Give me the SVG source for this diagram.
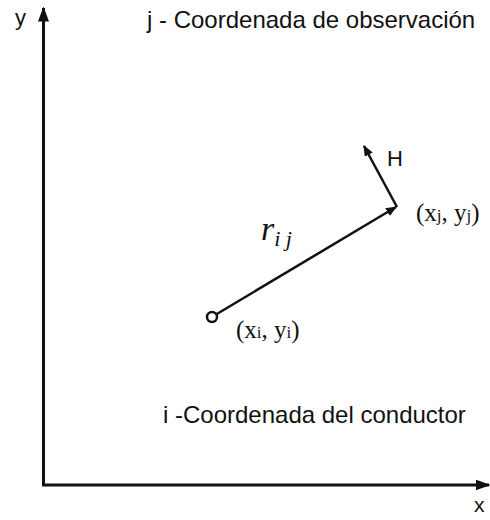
<svg xmlns="http://www.w3.org/2000/svg" width="490" height="520" viewBox="0 0 490 520">
<defs>
<style>
.sans{font-family:"Liberation Sans",Arial,sans-serif;fill:#111}
.serif{font-family:"Liberation Serif","Times New Roman",serif;fill:#111}
.ln{stroke:#111;fill:none}
</style>
<marker id="ah" viewBox="0 0 10 10" refX="9" refY="5" markerWidth="11" markerHeight="9" markerUnits="userSpaceOnUse" orient="auto" preserveAspectRatio="none">
<path d="M0,0 L10,5 L0,10 Z" fill="#111"/>
</marker>
<marker id="axh" viewBox="0 0 10 10" refX="9" refY="5" markerWidth="15" markerHeight="11" markerUnits="userSpaceOnUse" orient="auto" preserveAspectRatio="none">
<path d="M0,0 L10,5 L0,10 Z" fill="#111"/>
</marker>
</defs>
<rect width="490" height="520" fill="#fff"/>
<g id="connectors">
<line class="ln" x1="43.5" y1="485" x2="43.5" y2="8" stroke-width="3" marker-end="url(#axh)"/>
<line class="ln" x1="42" y1="485" x2="489" y2="485" stroke-width="3" marker-end="url(#axh)"/>
<line class="ln" x1="216" y1="314.5" x2="396" y2="207" stroke-width="2.5" marker-end="url(#ah)"/>
<line class="ln" x1="397" y1="207" x2="364" y2="146" stroke-width="2.5" marker-end="url(#ah)"/>
</g>
<g id="axis-labels">
<text class="sans" x="15" y="25" font-size="22">y</text>
<text class="sans" x="474" y="512" font-size="21">x</text>
</g>
<g id="title-j">
<text class="sans" x="147" y="28" font-size="24">j - Coordenada de observación</text>
</g>
<g id="title-i">
<text class="sans" x="163" y="423" font-size="24">i -Coordenada del conductor</text>
</g>
<g id="node-i">
<circle cx="212" cy="317" r="5" fill="#fff" stroke="#111" stroke-width="2.5"/>
<text class="serif" x="236" y="338" font-size="25">(x<tspan font-size="17">i</tspan>, y<tspan font-size="17">i</tspan>)</text>
</g>
<g id="node-j">
<text class="serif" x="416" y="221" font-size="25">(x<tspan font-size="17">j</tspan>, y<tspan font-size="17">j</tspan>)</text>
</g>
<g id="label-H">
<text class="sans" x="387" y="166" font-size="22">H</text>
</g>
<g id="label-rij">
<text class="serif" x="261" y="240" font-size="34" font-style="italic">r<tspan font-size="22" dy="6">i j</tspan></text>
</g>
</svg>
